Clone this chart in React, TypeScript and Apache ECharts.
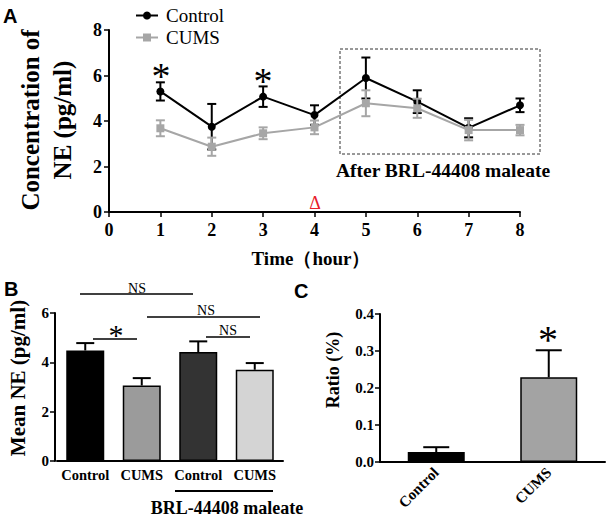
import React, { useEffect, useRef } from 'react';
import * as echarts from 'echarts';

const hours = [1, 2, 3, 4, 5, 6, 7, 8];
const controlMean = [5.3, 3.75, 5.07, 4.26, 5.89, 4.85, 3.7, 4.69];
const controlSem = [0.4, 1.0, 0.45, 0.43, 0.9, 0.5, 0.42, 0.3];
const cumsMean = [3.68, 2.87, 3.46, 3.72, 4.78, 4.56, 3.6, 3.6];
const cumsSem = [0.35, 0.4, 0.26, 0.3, 0.57, 0.42, 0.45, 0.23];

const meanCategories = ['Control', 'CUMS', 'Control', 'CUMS'];
const meanValues = [4.48, 3.06, 4.42, 3.7];
const meanSem = [0.3, 0.3, 0.43, 0.27];
const meanColors = ['#000000', '#9b9b9b', '#333333', '#d4d4d4'];

const ratioCategories = ['Control', 'CUMS'];
const ratioValues = [0.027, 0.229];
const ratioSem = [0.013, 0.073];
const ratioColors = ['#000000', '#a3a3a3'];

const SERIF = 'Liberation Serif, serif';
const SANS = 'Liberation Sans, sans-serif';

const axisLine = { show: true, lineStyle: { color: '#000', width: 2 } };
const axisTick = { show: true, length: 5, lineStyle: { color: '#000', width: 1.5 } };

function errorBars(color: string, both: boolean, hw: number) {
  return (params: any, api: any) => {
    const x = api.value(0);
    const y = api.value(1);
    const e = api.value(2);
    const top = api.coord([x, y + e]);
    const bot = api.coord(both ? [x, y - e] : [x, y]);
    const style = { stroke: color, lineWidth: 2 };
    const children: any[] = [
      { type: 'line', shape: { x1: top[0], y1: top[1], x2: bot[0], y2: bot[1] }, style },
      { type: 'line', shape: { x1: top[0] - hw, y1: top[1], x2: top[0] + hw, y2: top[1] }, style },
    ];
    if (both) {
      children.push({ type: 'line', shape: { x1: bot[0] - hw, y1: bot[1], x2: bot[0] + hw, y2: bot[1] }, style });
    }
    return { type: 'group', children };
  };
}

function txt(text: string, x: number, y: number, size: number, extra: any = {}) {
  const align = extra.align || 'center';
  const v = extra.v || 'middle';
  return {
    type: 'text',
    x,
    y,
    rotation: extra.rotation || 0,
    style: {
      text,
      fontFamily: extra.family || SERIF,
      fontSize: size,
      fontWeight: extra.bold ? 'bold' : 'normal',
      fill: extra.fill || '#000',
      align,
      verticalAlign: v,
      textAlign: align,
      textVerticalAlign: v,
      lineHeight: extra.lineHeight,
    },
  };
}

function hline(x1: number, x2: number, y: number, w = 1.5) {
  return { type: 'line', shape: { x1, y1: y, x2, y2: y }, style: { stroke: '#000', lineWidth: w } };
}

export default function App() {
  const ref = useRef<HTMLDivElement>(null);
  useEffect(() => {
    document.body.style.margin = '0';
    const chart = echarts.init(ref.current!, undefined, { renderer: 'svg' });
    const boldLabel = (size: number) => ({
      color: '#000',
      fontFamily: SERIF,
      fontWeight: 'bold',
      fontSize: size,
    });
    const option: any = {
      animation: false,
      backgroundColor: '#fff',
      legend: {
        data: ['Control', 'CUMS'],
        orient: 'vertical',
        left: 130,
        top: 1,
        itemWidth: 22,
        itemHeight: 10,
        itemGap: 3,
        textStyle: { color: '#000', fontFamily: SERIF, fontSize: 19, padding: [0, 0, 0, 3] },
      },
      grid: [
        { left: 109, top: 30, width: 411, height: 182 },
        { left: 57, top: 313, width: 226, height: 148 },
        { left: 380, top: 314, width: 225, height: 148 },
      ],
      xAxis: [
        {
          gridIndex: 0, type: 'value', min: 0, max: 8, interval: 1,
          axisLine, axisTick, splitLine: { show: false },
          axisLabel: { ...boldLabel(18), margin: 9 },
        },
        {
          gridIndex: 1, type: 'category', data: meanCategories,
          axisLine, axisTick: { show: false },
          axisLabel: { ...boldLabel(14.5), margin: 6, interval: 0 },
        },
        {
          gridIndex: 2, type: 'category', data: ratioCategories,
          axisLine, axisTick: { show: false },
          axisLabel: { ...boldLabel(15), margin: 8, rotate: 45, interval: 0 },
        },
      ],
      yAxis: [
        {
          gridIndex: 0, type: 'value', min: 0, max: 8, interval: 2,
          axisLine, axisTick, splitLine: { show: false },
          axisLabel: { ...boldLabel(18), margin: 7 },
        },
        {
          gridIndex: 1, type: 'value', min: 0, max: 6, interval: 2, offset: 2,
          axisLine, axisTick, splitLine: { show: false },
          axisLabel: { ...boldLabel(15), margin: 6 },
        },
        {
          gridIndex: 2, type: 'value', min: 0, max: 0.4, interval: 0.1,
          axisLine, axisTick, splitLine: { show: false },
          axisLabel: { ...boldLabel(15), margin: 6, formatter: (v: number) => v.toFixed(1) },
        },
      ],
      series: [
        {
          type: 'custom', xAxisIndex: 0, yAxisIndex: 0, z: 2,
          renderItem: errorBars('#000', true, 4.5),
          encode: { x: 0, y: 1 },
          data: hours.map((h, i) => [h, controlMean[i], controlSem[i]]),
        },
        {
          name: 'Control', type: 'line', xAxisIndex: 0, yAxisIndex: 0, z: 3,
          symbol: 'circle', symbolSize: 8,
          itemStyle: { color: '#000' },
          lineStyle: { color: '#000', width: 2 },
          data: hours.map((h, i) => [h, controlMean[i]]),
        },
        {
          type: 'custom', xAxisIndex: 0, yAxisIndex: 0, z: 4,
          renderItem: errorBars('#a6a6a6', true, 4.5),
          encode: { x: 0, y: 1 },
          data: hours.map((h, i) => [h, cumsMean[i], cumsSem[i]]),
        },
        {
          name: 'CUMS', type: 'line', xAxisIndex: 0, yAxisIndex: 0, z: 5,
          symbol: 'rect', symbolSize: 8,
          itemStyle: { color: '#a6a6a6' },
          lineStyle: { color: '#a6a6a6', width: 2 },
          data: hours.map((h, i) => [h, cumsMean[i]]),
        },
        {
          type: 'bar', xAxisIndex: 1, yAxisIndex: 1, barWidth: 38,
          data: meanValues.map((v, i) => ({
            value: v,
            itemStyle: { color: meanColors[i], borderColor: '#000', borderWidth: 1.5 },
          })),
        },
        {
          type: 'custom', xAxisIndex: 1, yAxisIndex: 1, z: 3,
          renderItem: errorBars('#000', false, 9),
          encode: { x: 0, y: 1 },
          data: meanValues.map((v, i) => [i, v, meanSem[i]]),
        },
        {
          type: 'bar', xAxisIndex: 2, yAxisIndex: 2, barWidth: 57,
          data: ratioValues.map((v, i) => ({
            value: v,
            itemStyle: { color: ratioColors[i], borderColor: '#000', borderWidth: 1.5 },
          })),
        },
        {
          type: 'custom', xAxisIndex: 2, yAxisIndex: 2, z: 3,
          renderItem: errorBars('#000', false, 13),
          encode: { x: 0, y: 1 },
          data: ratioValues.map((v, i) => [i, v, ratioSem[i]]),
        },
      ],
      graphic: [
        txt('A', 3, 6, 20, { align: 'left', v: 'top', bold: true, family: SANS }),
        txt('B', 4, 279, 20, { align: 'left', v: 'top', bold: true, family: SANS }),
        txt('C', 294, 281, 20, { align: 'left', v: 'top', bold: true, family: SANS }),
        txt('Concentration of\nNE (pg/ml)', 46, 120, 25, { rotation: Math.PI / 2, lineHeight: 32, bold: true }),
        txt('Time（hour）', 311, 258, 19, { bold: true }),
        txt('*', 161, 76, 38),
        txt('*', 263, 81, 38),
        txt('Δ', 315, 203, 18, { fill: '#e8202a' }),
        {
          type: 'rect',
          shape: { x: 340, y: 49, width: 200, height: 105 },
          style: { fill: 'none', stroke: '#333', lineWidth: 1, lineDash: [3, 2] },
        },
        txt('After BRL-44408 maleate', 443, 170, 19.5, { bold: true }),
        txt('Mean NE (pg/ml)', 18, 378, 21, { rotation: Math.PI / 2, bold: true }),
        hline(80, 193, 294),
        txt('NS', 137, 288, 14),
        hline(147, 260, 317),
        txt('NS', 206, 310, 14),
        hline(206, 250, 337),
        txt('NS', 228, 330, 14),
        hline(93, 137, 339),
        txt('*', 116, 334, 30),
        hline(175, 273, 491, 2),
        txt('BRL-44408 maleate', 227, 508, 18, { bold: true }),
        txt('Ratio (%)', 333, 370, 18, { rotation: Math.PI / 2, bold: true }),
        txt('*', 548, 339, 40),
      ],
    };
    chart.setOption(option);
    return () => chart.dispose();
  }, []);
  return <div ref={ref} style={{ width: 610, height: 523 }} />;
}
